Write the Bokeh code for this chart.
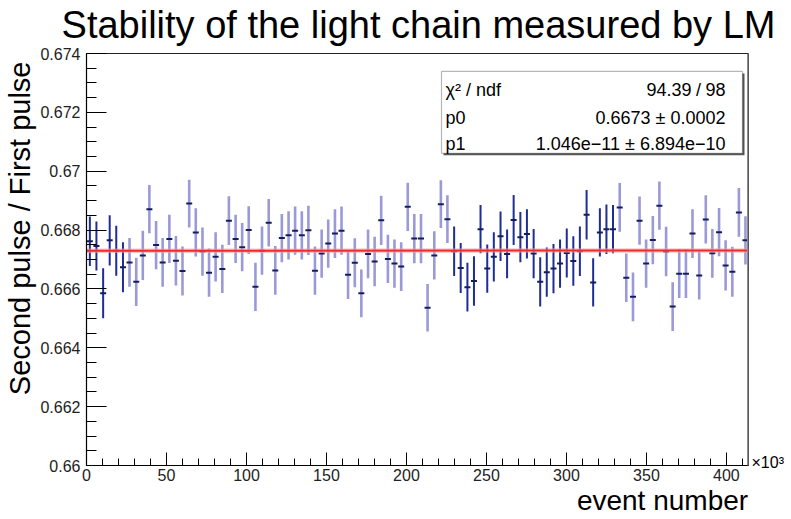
import math
import json
from bokeh.plotting import figure
from bokeh.models import (Range1d, FixedTicker, CustomJSTickFormatter, Label, Title,
                          ColumnDataSource, BoxAnnotation, LinearAxis, Span)
from bokeh.embed import file_html
from bokeh.resources import INLINE

# ---------------- data ----------------
# event number, in units of 10^3 events
event_k = [
    2.1, 6.2, 10.4, 14.5, 18.6, 22.8, 26.9, 31.1, 35.2, 39.3,
    43.5, 47.6, 51.8, 55.9, 60.0, 64.2, 68.3, 72.5, 76.6, 80.7,
    84.9, 89.0, 93.2, 97.3, 101.4, 105.6, 109.7, 113.9, 118.0, 122.1,
    126.3, 130.4, 134.6, 138.7, 142.8, 147.0, 151.1, 155.3, 159.4, 163.5,
    167.7, 171.8, 176.0, 180.1, 184.2, 188.4, 192.5, 196.7, 200.8, 204.9,
    209.1, 213.2, 217.4, 221.5, 225.6, 229.8, 233.9, 238.1, 242.2, 246.3,
    250.5, 254.6, 258.8, 262.9, 267.0, 271.2, 275.3, 279.5, 283.6, 287.7,
    291.9, 296.0, 300.2, 304.3, 308.4, 312.6, 316.7, 320.9, 325.0, 329.1,
    333.3, 337.4, 341.6, 345.7, 349.8, 354.0, 358.1, 362.3, 366.4, 370.5,
    374.7, 378.8, 383.0, 387.1, 391.2, 395.4, 399.5, 403.7, 407.8, 411.9,
]

ratio = [
    0.66762, 0.66746, 0.66585, 0.66765, 0.66730, 0.66674, 0.66690, 0.66624, 0.66714, 0.66871,
    0.66749, 0.66690, 0.66770, 0.66696, 0.66661, 0.66890, 0.66792, 0.66727, 0.66655, 0.66709,
    0.66668, 0.66832, 0.66770, 0.66742, 0.66800, 0.66607, 0.66730, 0.66825, 0.66663, 0.66773,
    0.66782, 0.66798, 0.66782, 0.66799, 0.66662, 0.66720, 0.66754, 0.66788, 0.66798, 0.66648,
    0.66689, 0.66585, 0.66719, 0.66693, 0.66833, 0.66702, 0.66686, 0.66676, 0.66879, 0.66771,
    0.66771, 0.66536, 0.66714, 0.66888, 0.66837, 0.66728, 0.66671, 0.66606, 0.66627, 0.66803,
    0.66669, 0.66709, 0.66779, 0.66719, 0.66834, 0.66776, 0.66787, 0.66720, 0.66624, 0.66657,
    0.66669, 0.66686, 0.66722, 0.66695, 0.66728, 0.66852, 0.66622, 0.66792, 0.66803, 0.66803,
    0.66877, 0.66638, 0.66573, 0.66832, 0.66686, 0.66766, 0.66883, 0.66727, 0.66540, 0.66652,
    0.66652, 0.66788, 0.66646, 0.66836, 0.66721, 0.66793, 0.66680, 0.66658, 0.66860, 0.66765,
]

ratio_err = [
    0.00084, 0.00083, 0.00085, 0.00085, 0.00085, 0.00085, 0.00083, 0.00082, 0.00084, 0.00082,
    0.00082, 0.00083, 0.00082, 0.00084, 0.00083, 0.00081, 0.00082, 0.00082, 0.00082, 0.00084,
    0.00082, 0.00083, 0.00082, 0.00082, 0.00081, 0.00082, 0.00082, 0.00081, 0.00083, 0.00082,
    0.00082, 0.00082, 0.00082, 0.00084, 0.00082, 0.00082, 0.00082, 0.00083, 0.00082, 0.00082,
    0.00083, 0.00081, 0.00083, 0.00084, 0.00084, 0.00082, 0.00082, 0.00083, 0.00082, 0.00084,
    0.00084, 0.00081, 0.00082, 0.00081, 0.00081, 0.00084, 0.00085, 0.00083, 0.00084, 0.00082,
    0.00082, 0.00084, 0.00084, 0.00083, 0.00085, 0.00085, 0.00084, 0.00084, 0.00084, 0.00084,
    0.00084, 0.00082, 0.00083, 0.00084, 0.00084, 0.00084, 0.00082, 0.00082, 0.00084, 0.00082,
    0.00083, 0.00082, 0.00083, 0.00082, 0.00082, 0.00082, 0.00082, 0.00084, 0.00083, 0.00083,
    0.00083, 0.00083, 0.00082, 0.00082, 0.00083, 0.00082, 0.00085, 0.00085, 0.00083, 0.00082,
]

# run group of each point: "A" drawn dark, "B" drawn light
run_group = ["A"] * 6 + ["B"] * 49 + ["A"] * 25 + ["B"] * 20

# linear fit p0 + p1*x
fit_p0 = 0.6673
fit_p1 = 1.046e-11
fit_x_k = [0.0, 413.8]

stats_names = ["\u03c7\u00b2 / ndf", "p0", "p1"]
stats_values = ["94.39\u2005/\u200598", "0.6673 \u00b1 0.0002", "1.046e\u221211 \u00b1 6.894e\u221210"]

title_text = "Stability of the light chain measured by LM"
y_title = "Second pulse / First pulse"
x_title = "event number"
x_scale_text = "\u00d710\u00b3"

y_ticks = [0.660, 0.662, 0.664, 0.666, 0.668, 0.670, 0.672, 0.674]
x_ticks = [0, 50, 100, 150, 200, 250, 300, 350, 400]

# ---------------- layout constants ----------------
W, H = 791, 519
FL, FR, FT, FB = 86, 748, 52, 465
X0, X1 = 0.0, 413.8
Y0, Y1 = 0.660, 0.674
FONT = "Liberation Sans"
DARK = "#1f2d96"
LIGHT = "#9a9ad8"


def px2x(px):
    return X0 + (px - FL) / (FR - FL) * (X1 - X0)


def px2y(py):
    return Y0 + (FB - py) / (FB - FT) * (Y1 - Y0)


def text_axis(tick, text, size, standoff):
    ax = LinearAxis(ticker=FixedTicker(ticks=[tick]),
                    formatter=CustomJSTickFormatter(code="return %s;" % json.dumps(text)),
                    axis_line_color=None, major_tick_line_color=None,
                    minor_tick_line_color=None, major_tick_in=0, major_tick_out=0,
                    major_label_standoff=standoff, major_label_text_font=FONT,
                    major_label_text_font_size=size, major_label_text_color="black")
    return ax


p = figure(width=W, height=H, output_backend="svg", toolbar_location=None,
           x_range=Range1d(X0, X1), y_range=Range1d(Y0, Y1), title=None,
           min_border_left=FL, min_border_right=W - FR,
           min_border_top=FT, min_border_bottom=H - FB)
p.background_fill_color = "white"
p.border_fill_color = "white"
p.grid.visible = False
p.outline_line_color = "#222222"
p.outline_line_width = 1

# axes
p.xaxis.ticker = FixedTicker(ticks=x_ticks, minor_ticks=list(range(0, 411, 10)))
p.yaxis.ticker = FixedTicker(ticks=y_ticks,
                             minor_ticks=[round(0.660 + 0.0005 * k, 4) for k in range(29)])
p.yaxis.formatter = CustomJSTickFormatter(code="return parseFloat(tick.toFixed(3)).toString();")
for ax in (p.xaxis[0], p.yaxis[0]):
    ax.axis_line_color = "black"
    ax.axis_line_width = 1.2
    ax.major_tick_line_color = "black"
    ax.minor_tick_line_color = "black"
    ax.major_tick_out = 0
    ax.minor_tick_out = 0
    ax.major_label_text_font = FONT
    ax.major_label_text_font_size = "16px"
    ax.major_label_text_color = "#222222"
p.xaxis.major_tick_in = 13
p.xaxis.minor_tick_in = 7
p.yaxis.major_tick_in = 20
p.yaxis.minor_tick_in = 10
p.xaxis.major_label_standoff = 3
p.yaxis.major_label_standoff = 6

# texts outside the frame
p.add_layout(text_axis(px2x(418), title_text, "38px", 8), "above")
p.add_layout(Title(text=y_title, align="right", offset=8, standoff=3,
                   vertical_align="bottom", text_font=FONT, text_font_size="29px",
                   text_font_style="normal", text_color="black"), "left")
p.add_layout(text_axis(px2y(462), x_scale_text, "16px", 3), "right")
p.add_layout(text_axis(px2x(748 - 86.0), x_title, "28px", 1), "below")

# frame right edge (grey, thick as in the reference)
p.add_layout(Span(location=X1, dimension="height", line_color="#8c8c8c", line_width=3))

# data
colors = [DARK if g == "A" else LIGHT for g in run_group]
widths = [2.0 if g == "A" else 2.6 for g in run_group]
src = ColumnDataSource(dict(
    x=event_k, y=ratio,
    lo=[v - e for v, e in zip(ratio, ratio_err)],
    hi=[v + e for v, e in zip(ratio, ratio_err)],
    c=colors, w=widths))

p.segment(x0="x", y0="lo", x1="x", y1="hi", source=src,
          line_color="c", line_width="w")
p.scatter(x="x", y="y", source=src, marker="dash", size=6,
          line_color="#141c60", line_width=2)

fit_y = [fit_p0 + fit_p1 * v * 1e3 for v in fit_x_k]
p.line(fit_x_k, fit_y, line_color="#f8a0a0", line_width=4.5, line_alpha=0.6)
p.line(fit_x_k, fit_y, line_color="#ee2a2a", line_width=2)

# stats box
p.add_layout(BoxAnnotation(left=px2x(443), right=px2x(744), top=px2y(72), bottom=px2y(154),
                           fill_color="#555555", fill_alpha=1, line_alpha=0, level="overlay"))
p.add_layout(BoxAnnotation(left=px2x(441), right=px2x(742), top=px2y(70), bottom=px2y(152),
                           fill_color="white", fill_alpha=1, line_color="#111111",
                           line_width=1.2, level="overlay"))
for i, (nm, val) in enumerate(zip(stats_names, stats_values)):
    base = [89, 117, 143][i]
    p.add_layout(Label(x=px2x(445), y=px2y(base), text=nm, text_font=FONT,
                       text_font_size="18px", text_align="left", text_baseline="alphabetic",
                       text_color="black", level="overlay"))
    p.add_layout(Label(x=px2x(725), y=px2y(base), text=val, text_font=FONT,
                       text_font_size="18px", text_align="right", text_baseline="alphabetic",
                       text_color="black", level="overlay"))

open("out.html", "w").write(file_html(p, INLINE))
